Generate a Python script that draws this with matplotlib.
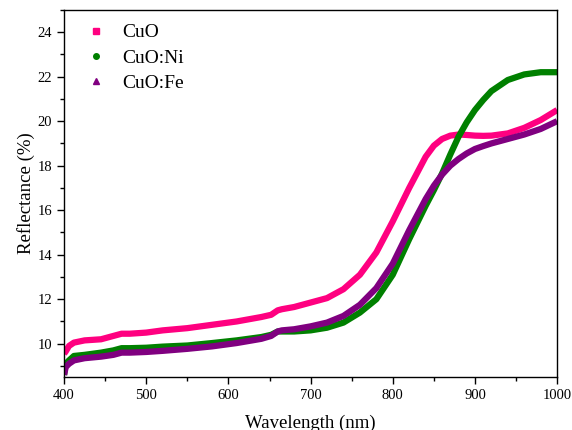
import numpy as np
import matplotlib
matplotlib.use('Agg')
import matplotlib.pyplot as plt
from matplotlib.lines import Line2D
from matplotlib.ticker import MultipleLocator

plt.rcParams['font.family'] = ['Liberation Serif', 'DejaVu Serif']

# wavelength (nm)
wl = [400, 402, 406, 412, 425, 445, 460, 470, 480, 500, 520, 550, 580, 610, 640,
      652, 660, 665, 680, 700, 720, 740, 760, 780, 800, 820, 840, 850, 860, 870,
      880, 890, 900, 910, 920, 940, 960, 980, 1000]

# reflectance (%)
cuo = [9.55, 9.65, 9.9, 10.05, 10.15, 10.2, 10.35, 10.45, 10.45, 10.5, 10.6, 10.7,
       10.85, 11.0, 11.2, 11.3, 11.5, 11.55, 11.65, 11.85, 12.05, 12.45, 13.1, 14.1,
       15.5, 17.0, 18.4, 18.9, 19.2, 19.35, 19.4, 19.38, 19.35, 19.34, 19.35, 19.45,
       19.7, 20.05, 20.5]
cuo_ni = [8.6, 9.1, 9.25, 9.45, 9.5, 9.6, 9.7, 9.8, 9.8, 9.82, 9.87, 9.92, 10.03,
          10.15, 10.3, 10.4, 10.55, 10.55, 10.55, 10.6, 10.72, 10.95, 11.4, 12.0,
          13.1, 14.7, 16.2, 16.9, 17.65, 18.5, 19.3, 19.95, 20.5, 20.95, 21.35, 21.85,
          22.1, 22.2, 22.2]
cuo_fe = [8.6, 8.95, 9.1, 9.25, 9.35, 9.42, 9.5, 9.6, 9.6, 9.63, 9.68, 9.77, 9.88,
          10.03, 10.22, 10.35, 10.55, 10.6, 10.65, 10.78, 10.95, 11.25, 11.75, 12.5,
          13.6, 15.1, 16.5, 17.1, 17.6, 18.0, 18.3, 18.55, 18.75, 18.88, 19.0, 19.2,
          19.4, 19.65, 20.0]

labels = ['CuO', 'CuO:Ni', 'CuO:Fe']
colors = ['#ff0080', '#008000', '#800080']
markers = ['s', 'o', '^']

fig = plt.figure(figsize=(5.72, 4.30), dpi=100)
ax = fig.add_axes([0.112, 0.123, 0.862, 0.854])

handles = []
for y, c, m, lab in zip([cuo, cuo_ni, cuo_fe], colors, markers, labels):
    ax.plot(wl, y, '-', color=c, lw=4.5, solid_capstyle='butt', solid_joinstyle='round')
    handles.append(Line2D([], [], ls='none', marker=m, color=c, markersize=4, label=lab))

ax.set_xlim(400, 1000)
ax.set_ylim(8.5, 25)
ax.xaxis.set_major_locator(MultipleLocator(100))
ax.xaxis.set_minor_locator(MultipleLocator(50))
ax.yaxis.set_minor_locator(MultipleLocator(1))
ax.set_yticks(range(10, 25, 2))
ax.tick_params(which='major', direction='out', length=5, width=1, labelsize=10.5)
ax.tick_params(which='minor', direction='out', length=3, width=1)
for s in ax.spines.values():
    s.set_linewidth(1)

ax.set_xlabel('Wavelength (nm)', fontsize=13.5, labelpad=9)
ax.set_ylabel('Reflectance (%)', fontsize=13.5, labelpad=2)

ax.legend(handles=handles, loc='upper left', frameon=False, fontsize=14,
          bbox_to_anchor=(-0.01, 1.01), handletextpad=0.35, labelspacing=0.4)

fig.savefig('out.png', dpi=100)
